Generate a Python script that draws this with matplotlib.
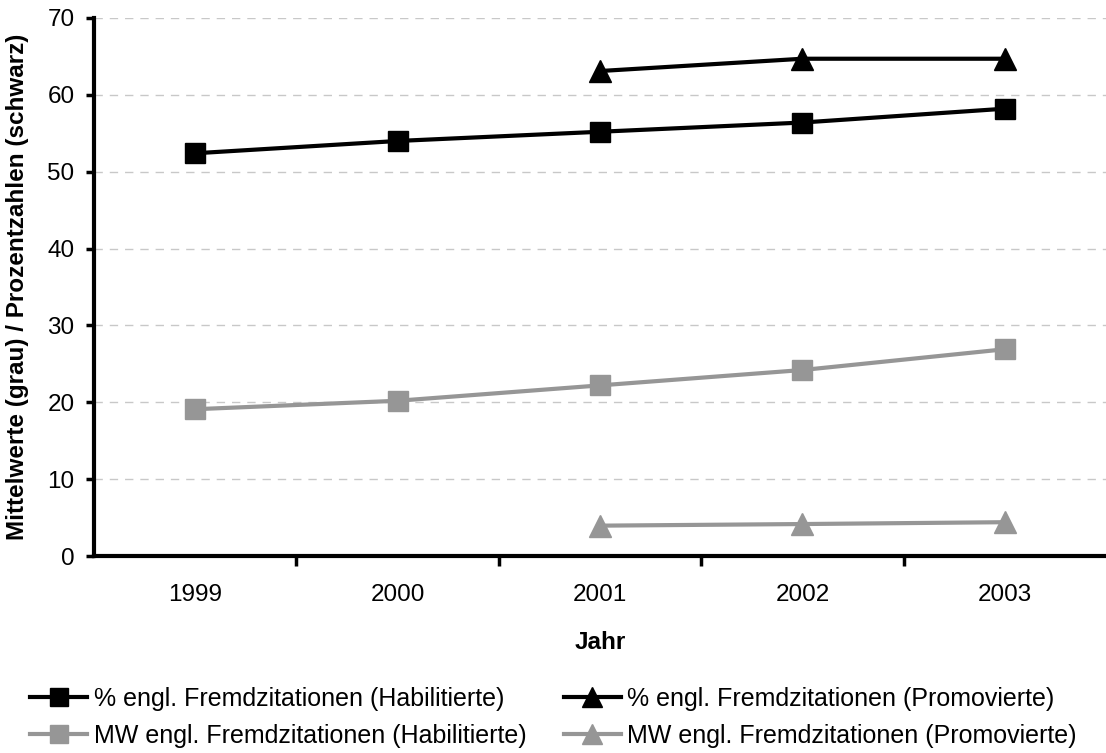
import matplotlib
matplotlib.use("Agg")
import matplotlib.pyplot as plt

years = ["1999", "2000", "2001", "2002", "2003"]
pct_habil = [52.4, 54.0, 55.2, 56.4, 58.2]
pct_promov = [None, None, 63.1, 64.7, 64.7]
mw_habil = [19.1, 20.2, 22.2, 24.2, 26.9]
mw_promov = [None, None, 3.95, 4.16, 4.4]

labels = [
    "% engl. Fremdzitationen (Habilitierte)",
    "% engl. Fremdzitationen (Promovierte)",
    "MW engl. Fremdzitationen (Habilitierte)",
    "MW engl. Fremdzitationen (Promovierte)",
]

plt.rcParams['font.family'] = ['Liberation Sans', 'DejaVu Sans']

fig = plt.figure(figsize=(11.06, 7.53), dpi=100)
ax = fig.add_axes([0.085, 0.2616, 0.915, 0.7145])

gray = "#969696"
x = list(range(len(years)))

def pts(vals):
    xs = [i for i, v in zip(x, vals) if v is not None]
    ys = [v for v in vals if v is not None]
    return xs, ys

lw = 3.0
h1, = ax.plot(*pts(pct_habil), color="black", lw=lw, marker="s", ms=14, label=labels[0])
h2, = ax.plot(*pts(pct_promov), color="black", lw=lw, marker="^", ms=16, label=labels[1])
h3, = ax.plot(*pts(mw_habil), color=gray, lw=lw, marker="s", ms=14, label=labels[2])
h4, = ax.plot(*pts(mw_promov), color=gray, lw=lw, marker="^", ms=16, label=labels[3])

ax.set_xlim(-0.5, 4.5)
ax.set_ylim(0, 70)
ax.set_yticks(range(0, 71, 10))
ax.set_xticks(x)
ax.set_xticklabels(years)
ax.set_xticks([i + 0.5 for i in range(4)], minor=True)
ax.tick_params(axis='x', which='major', length=0, pad=20, labelsize=17.5)
ax.tick_params(axis='x', which='minor', length=7, width=2.5, direction='out')
ax.tick_params(axis='y', length=6, width=2.5, direction='out', labelsize=17.5, pad=8)

for s in ["top", "right"]:
    ax.spines[s].set_visible(False)
for s in ["left", "bottom"]:
    ax.spines[s].set_linewidth(3)

ax.yaxis.grid(True, color="#c8c8c8", linestyle=(0, (6, 5)), lw=1)
ax.set_axisbelow(True)

ax.set_ylabel("Mittelwerte (grau) / Prozentzahlen (schwarz)", fontsize=17.5, fontweight="bold", labelpad=13)
ax.set_xlabel("Jahr", fontsize=17.5, fontweight="bold", labelpad=18)

leg = fig.legend([h1, h3, h2, h4], [labels[0], labels[2], labels[1], labels[3]],
                 ncol=2, loc="upper left",
                 frameon=False, fontsize=18, handlelength=2.3, handletextpad=0.25,
                 columnspacing=1.5, labelspacing=0.52, borderaxespad=0, borderpad=0,
                 markerscale=0.9)
leg.set_bbox_to_anchor((0.027, 0.088), transform=fig.transFigure)

fig.savefig("out.png", dpi=100)
